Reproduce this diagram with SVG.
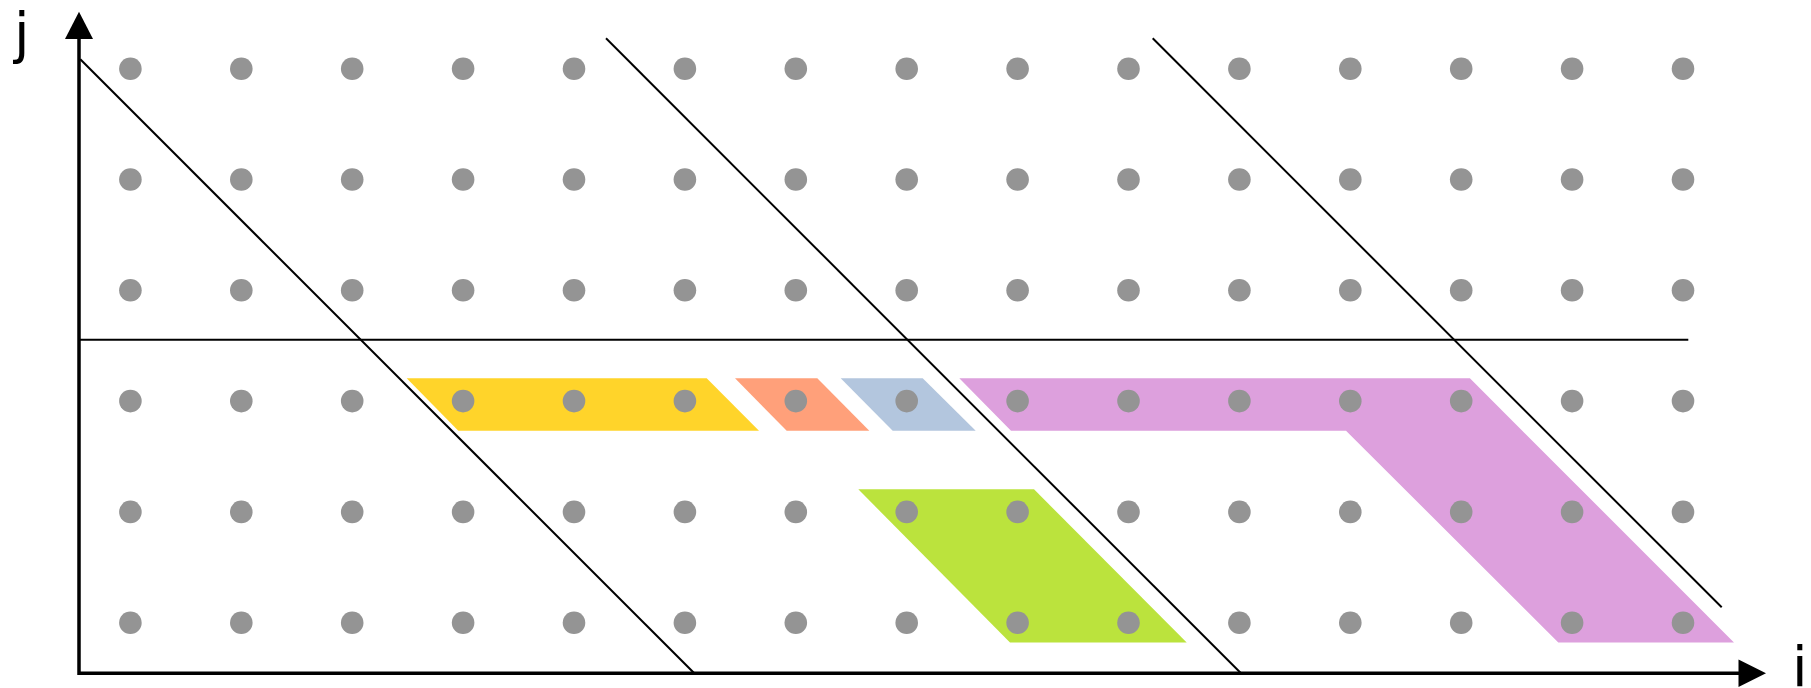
<svg xmlns="http://www.w3.org/2000/svg" width="1811" height="688" viewBox="0 0 1811 688">
<style>
.dot{fill:#949494}
.axis{stroke:#000;stroke-width:3.5;fill:none}
.ln{stroke:#000;stroke-width:2;fill:none}
.head{fill:#000}
.lbl{font-family:"DejaVu Sans",sans-serif;font-size:56px;fill:#000}
</style>
<defs>
<circle id="d" r="11.3" class="dot"/>
</defs>
<rect width="1811" height="688" fill="#fff"/>
<g id="tiles">
<polygon id="tile-yellow" points="406.7,378.3 706.7,378.3 759,430.7 458.3,430.7" fill="#FFD42A"/>
<polygon id="tile-orange" points="735,378.3 817.3,378.3 869.3,430.7 786.7,430.7" fill="#FFA07A"/>
<polygon id="tile-blue" points="840.7,378.3 922.7,378.3 975.7,430.7 892.7,430.7" fill="#B3C6DE"/>
<polygon id="tile-purple" points="959.3,378.3 1469.9,378.3 1734,642.5 1558.3,642.5 1346,430.7 1011,430.7" fill="#DDA0DD"/>
<polygon id="tile-green" points="858.3,489.3 1034,489.3 1186.7,642.5 1010,642.5" fill="#BBE33D"/>
</g>
<g id="connectors">
<line class="ln" x1="80.3" y1="59.3" x2="694.3" y2="673.3"/>
<line class="ln" x1="606" y1="38.3" x2="1241" y2="673.3"/>
<line class="ln" x1="1152.7" y1="38.3" x2="1721.7" y2="607.3"/>
<line class="ln" x1="79" y1="339.7" x2="1688.3" y2="339.7"/>
</g>
<g id="dots">
<g id="row0">
<use href="#d" x="130.4" y="68.7"/><use href="#d" x="241.3" y="68.7"/><use href="#d" x="352.2" y="68.7"/><use href="#d" x="463.1" y="68.7"/><use href="#d" x="574" y="68.7"/><use href="#d" x="684.9" y="68.7"/><use href="#d" x="795.8" y="68.7"/><use href="#d" x="906.7" y="68.7"/><use href="#d" x="1017.6" y="68.7"/><use href="#d" x="1128.5" y="68.7"/><use href="#d" x="1239.4" y="68.7"/><use href="#d" x="1350.3" y="68.7"/><use href="#d" x="1461.2" y="68.7"/><use href="#d" x="1572.1" y="68.7"/><use href="#d" x="1683" y="68.7"/>
</g>
<g id="row1">
<use href="#d" x="130.4" y="179.5"/><use href="#d" x="241.3" y="179.5"/><use href="#d" x="352.2" y="179.5"/><use href="#d" x="463.1" y="179.5"/><use href="#d" x="574" y="179.5"/><use href="#d" x="684.9" y="179.5"/><use href="#d" x="795.8" y="179.5"/><use href="#d" x="906.7" y="179.5"/><use href="#d" x="1017.6" y="179.5"/><use href="#d" x="1128.5" y="179.5"/><use href="#d" x="1239.4" y="179.5"/><use href="#d" x="1350.3" y="179.5"/><use href="#d" x="1461.2" y="179.5"/><use href="#d" x="1572.1" y="179.5"/><use href="#d" x="1683" y="179.5"/>
</g>
<g id="row2">
<use href="#d" x="130.4" y="290.3"/><use href="#d" x="241.3" y="290.3"/><use href="#d" x="352.2" y="290.3"/><use href="#d" x="463.1" y="290.3"/><use href="#d" x="574" y="290.3"/><use href="#d" x="684.9" y="290.3"/><use href="#d" x="795.8" y="290.3"/><use href="#d" x="906.7" y="290.3"/><use href="#d" x="1017.6" y="290.3"/><use href="#d" x="1128.5" y="290.3"/><use href="#d" x="1239.4" y="290.3"/><use href="#d" x="1350.3" y="290.3"/><use href="#d" x="1461.2" y="290.3"/><use href="#d" x="1572.1" y="290.3"/><use href="#d" x="1683" y="290.3"/>
</g>
<g id="row3">
<use href="#d" x="130.4" y="401.1"/><use href="#d" x="241.3" y="401.1"/><use href="#d" x="352.2" y="401.1"/><use href="#d" x="463.1" y="401.1"/><use href="#d" x="574" y="401.1"/><use href="#d" x="684.9" y="401.1"/><use href="#d" x="795.8" y="401.1"/><use href="#d" x="906.7" y="401.1"/><use href="#d" x="1017.6" y="401.1"/><use href="#d" x="1128.5" y="401.1"/><use href="#d" x="1239.4" y="401.1"/><use href="#d" x="1350.3" y="401.1"/><use href="#d" x="1461.2" y="401.1"/><use href="#d" x="1572.1" y="401.1"/><use href="#d" x="1683" y="401.1"/>
</g>
<g id="row4">
<use href="#d" x="130.4" y="511.9"/><use href="#d" x="241.3" y="511.9"/><use href="#d" x="352.2" y="511.9"/><use href="#d" x="463.1" y="511.9"/><use href="#d" x="574" y="511.9"/><use href="#d" x="684.9" y="511.9"/><use href="#d" x="795.8" y="511.9"/><use href="#d" x="906.7" y="511.9"/><use href="#d" x="1017.6" y="511.9"/><use href="#d" x="1128.5" y="511.9"/><use href="#d" x="1239.4" y="511.9"/><use href="#d" x="1350.3" y="511.9"/><use href="#d" x="1461.2" y="511.9"/><use href="#d" x="1572.1" y="511.9"/><use href="#d" x="1683" y="511.9"/>
</g>
<g id="row5">
<use href="#d" x="130.4" y="622.7"/><use href="#d" x="241.3" y="622.7"/><use href="#d" x="352.2" y="622.7"/><use href="#d" x="463.1" y="622.7"/><use href="#d" x="574" y="622.7"/><use href="#d" x="684.9" y="622.7"/><use href="#d" x="795.8" y="622.7"/><use href="#d" x="906.7" y="622.7"/><use href="#d" x="1017.6" y="622.7"/><use href="#d" x="1128.5" y="622.7"/><use href="#d" x="1239.4" y="622.7"/><use href="#d" x="1350.3" y="622.7"/><use href="#d" x="1461.2" y="622.7"/><use href="#d" x="1572.1" y="622.7"/><use href="#d" x="1683" y="622.7"/>
</g>
</g>
<g id="axes">
<polyline class="axis" points="79,38 79,673.3 1739,673.3"/>
<polygon class="head" points="79,11.7 93,39 65,39"/>
<polygon class="head" points="1766,673.3 1738.5,687 1738.5,659.6"/>
</g>
<g id="labels">
<text class="lbl" x="14" y="51.6">j</text>
<text class="lbl" x="1792" y="686">i</text>
</g>
</svg>
